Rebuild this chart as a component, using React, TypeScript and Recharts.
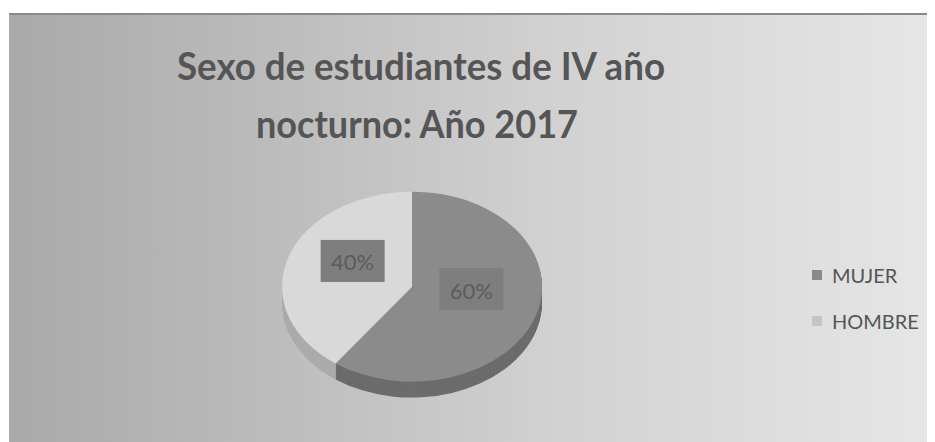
import React from "react";
import { PieChart, Pie, Cell, Legend } from "recharts";

const categories = ["MUJER", "HOMBRE"];
const values = [60, 40];
const topColors = ["#8b8b8b", "#d9d9d9"];
const sideColors = ["#6c6c6c", "#ababab"];
const legendColors = ["#8a8a8a", "#c4c4c4"];
const titleLines = ["Sexo de estudiantes de IV año", "nocturno: Año 2017"];

const data = categories.map((name, i) => ({ name, value: values[i] }));

const W = 926;
const H = 429;
const CX = 398;
const CY = 270;
const R = 130;
const S = 0.73;
const DEPTH = 16;
const offsets = Array.from({ length: DEPTH }, (_, i) => DEPTH - i);

const RAD = Math.PI / 180;
const FONT = "Lato, 'Open Sans', 'Liberation Sans', sans-serif";

const renderLabel = (props: any) => {
  const { cx, cy, midAngle, outerRadius, percent } = props;
  const r = outerRadius * 0.48;
  const x = cx + r * Math.cos(-midAngle * RAD);
  const y = cy + S * r * Math.sin(-midAngle * RAD) - 13;
  return (
    <g>
      <rect x={x - 32} y={y - 21} width={64} height={42} fill="#7e7e7e" />
      <text
        x={x}
        y={y + 1}
        textAnchor="middle"
        dominantBaseline="central"
        fontFamily={FONT}
        fontSize={22}
        fill="#5c5c5c"
      >
        {`${Math.round(percent * 100)}%`}
      </text>
    </g>
  );
};

const renderLegend = (props: any) => {
  const { payload } = props;
  const seen = new Map<string, any>();
  (payload || []).forEach((entry: any) => {
    if (entry.type === "none") return;
    seen.set(String(entry.value), entry);
  });
  const items = categories
    .filter((c) => seen.has(c))
    .map((c) => ({ value: c, color: legendColors[categories.indexOf(c)] }));
  const list = items.length ? items : categories.map((c, i) => ({ value: c, color: legendColors[i] }));
  return (
    <div style={{ fontFamily: FONT }}>
      {list.map((entry: any, i: number) => (
        <div
          key={i}
          style={{
            display: "flex",
            alignItems: "center",
            height: 28,
            marginBottom: 18,
          }}
        >
          <span
            style={{
              display: "inline-block",
              width: 10,
              height: 10,
              background: entry.color,
              marginRight: 10,
            }}
          />
          <span style={{ fontSize: 20, color: "#555555" }}>{entry.value}</span>
        </div>
      ))}
    </div>
  );
};

const css = [0, ...offsets]
  .map(
    (d) =>
      `.pl-${d} path { transform: matrix(1,0,0,${S},0,${CY * (1 - S) + d}); }`
  )
  .join("\n");

export default function App() {
  return (
    <div
      style={{
        position: "relative",
        width: W,
        height: H,
        marginTop: 5,
        marginLeft: 1,
        borderTop: "2px solid #8a8a8a",
        boxSizing: "border-box",
        background:
          "linear-gradient(90deg, #a9a9a9 0%, #bdbdbd 30%, #d2d2d2 60%, #e6e6e6 100%)",
      }}
    >
      <style>{css}</style>
      <svg
        width={W}
        height={H}
        style={{ position: "absolute", left: 0, top: -2, pointerEvents: "none" }}
      >
        <text
          x={412}
          y={67}
          textAnchor="middle"
          fontFamily={FONT}
          fontWeight={700}
          fontSize={38}
          fill="#555555"
          textLength={488}
          lengthAdjust="spacingAndGlyphs"
        >
          {titleLines[0]}
        </text>
        <text
          x={408}
          y={125}
          textAnchor="middle"
          fontFamily={FONT}
          fontWeight={700}
          fontSize={38}
          fill="#555555"
          textLength={322}
          lengthAdjust="spacingAndGlyphs"
        >
          {titleLines[1]}
        </text>
      </svg>
      <div style={{ position: "absolute", left: 0, top: -2 }}>
        <PieChart width={W} height={H}>
          {offsets.map((d) => (
            <Pie
              key={d}
              className={`pl-${d}`}
              data={data}
              dataKey="value"
              nameKey="name"
              cx={CX}
              cy={CY}
              outerRadius={R}
              startAngle={90}
              endAngle={-270}
              stroke="none"
              legendType="none"
              isAnimationActive={false}
            >
              {data.map((_, i) => (
                <Cell key={i} fill={sideColors[i]} />
              ))}
            </Pie>
          ))}
          <Pie
            className="pl-0"
            data={data}
            dataKey="value"
            nameKey="name"
            cx={CX}
            cy={CY}
            outerRadius={R}
            startAngle={90}
            endAngle={-270}
            stroke="none"
            label={renderLabel}
            labelLine={false}
            isAnimationActive={false}
          >
            {data.map((_, i) => (
              <Cell key={i} fill={topColors[i]} />
            ))}
          </Pie>
          <Legend
            content={renderLegend}
            wrapperStyle={{ position: "absolute", left: 803, top: 248, width: 130 }}
          />
        </PieChart>
      </div>
    </div>
  );
}
